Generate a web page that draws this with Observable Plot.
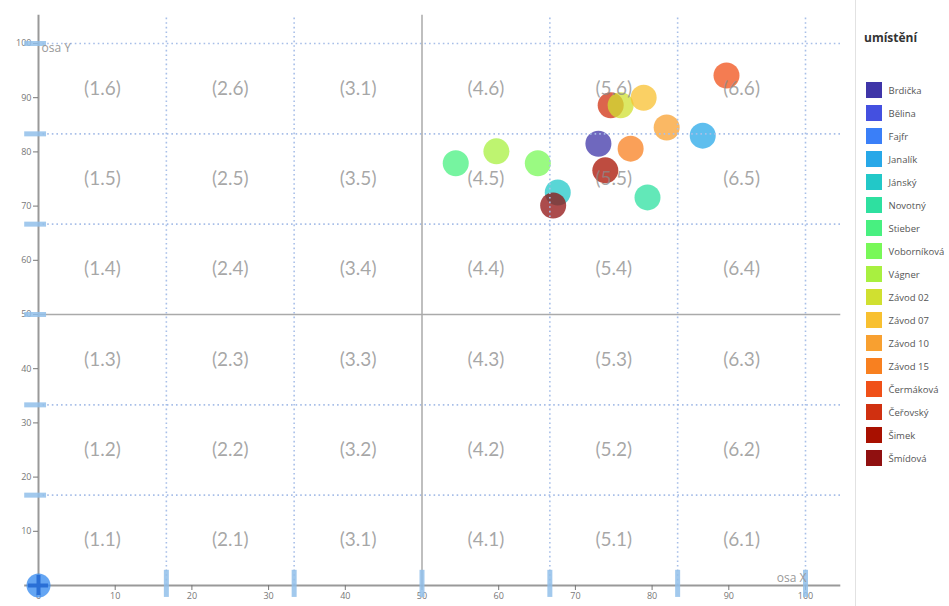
<!DOCTYPE html>
<html><head><meta charset="utf-8">
<script src="https://cdn.jsdelivr.net/npm/d3@7"></script>
<script src="https://cdn.jsdelivr.net/npm/@observablehq/plot@0.6"></script>
<style>
body{margin:0;background:#fff;font-family:"Open Sans",sans-serif;}
#wrap{position:relative;width:949px;height:606px;overflow:hidden;}
#chart{position:absolute;left:0;top:0;}
#legend{position:absolute;left:855px;top:0;width:94px;height:606px;border-left:1px solid #e2e2e2;}
#ltitle{position:absolute;left:8px;top:29px;font:bold 12px "Open Sans",sans-serif;color:#333;}
#lplot{position:absolute;left:0;top:0;}
</style></head><body>
<div id="wrap"><div id="chart"></div><div id="legend"><div id="lplot"></div><div id="ltitle">umístění</div></div></div>
<script>
// legend categories and colours
const names = ["Brdička","Bělina","Fajfr","Janalík","Jánský","Novotný","Stieber","Voborníková","Vágner","Závod 02","Závod 07","Závod 10","Závod 15","Čermáková","Čeřovský","Šimek","Šmídová"];
const colors = ["#3f35a8","#4450e0","#3a7ff8","#28a8e8","#22c8c8","#2ee0a0","#48f080","#78f858","#a8f040","#d0e030","#f8c030","#f8a030","#f88020","#f05018","#d03010","#a81000","#901010"];

// plotted points
const pointNames = ["Stieber","Vágner","Voborníková","Jánský","Šmídová","Brdička","Šimek","Čeřovský","Závod 02","Závod 07","Závod 15","Závod 10","Novotný","Janalík","Čermáková"];
const pointX = [54.4, 59.7, 65.1, 67.7, 67.1, 73.0, 73.9, 74.6, 75.9, 78.9, 77.2, 81.9, 79.4, 86.6, 89.7];
const pointY = [77.9, 80.1, 77.9, 72.5, 70.1, 81.5, 76.6, 88.6, 88.6, 90.0, 80.6, 84.5, 71.6, 83.0, 94.1];

// grid / cells
const gridLines = [16.67, 33.33, 50, 66.67, 83.33, 100];
const cellCenters = [8.33, 25, 41.67, 58.33, 75, 91.67];
const cellLabels = [
  ["(1.1)","(2.1)","(3.1)","(4.1)","(5.1)","(6.1)"],
  ["(1.2)","(2.2)","(3.2)","(4.2)","(5.2)","(6.2)"],
  ["(1.3)","(2.3)","(3.3)","(4.3)","(5.3)","(6.3)"],
  ["(1.4)","(2.4)","(3.4)","(4.4)","(5.4)","(6.4)"],
  ["(1.5)","(2.5)","(3.5)","(4.5)","(5.5)","(6.5)"],
  ["(1.6)","(2.6)","(3.1)","(4.6)","(5.6)","(6.6)"]
];
const xTicks = [0,10,20,30,40,50,60,70,80,90,100];
const yTicks = [10,20,30,40,50,60,70,80,90,100];
const origin = [0];

const points = pointNames.map((n,i)=>({name:n, x:pointX[i], y:pointY[i]}));
const cells = cellLabels.flatMap((row,j)=>row.map((t,i)=>({x:cellCenters[i], y:cellCenters[j], t})));
const dotted = gridLines.filter(v=>v!==50);

const chart = Plot.plot({
  width: 850, height: 606,
  marginLeft: 38, marginRight: 45, marginTop: 43, marginBottom: 21,
  x: {domain:[0,100], axis:null},
  y: {domain:[0,100], axis:null},
  color: {domain:names, range:colors},
  style: {fontFamily:"'Open Sans', sans-serif", background:"white", overflow:"visible"},
  marks: [
    Plot.dot(points, {x:"x", y:"y", r:13, fill:"name", fillOpacity:0.75}),
    Plot.ruleX(dotted, {x:d=>d, y1:0, y2:105.2, stroke:"#a8bfe8", strokeWidth:1.6, strokeDasharray:"1.6,3"}),
    Plot.ruleY(dotted, {y:d=>d, x1:0, x2:104.6, stroke:"#a8bfe8", strokeWidth:1.6, strokeDasharray:"1.6,3"}),
    Plot.ruleX([50], {x:d=>d, y1:0, y2:105.2, stroke:"#aaa", strokeWidth:1.5}),
    Plot.ruleY([50], {y:d=>d, x1:0, x2:104.6, stroke:"#aaa", strokeWidth:1.5}),
    Plot.text(cells, {x:"x", y:"y", text:"t", fill:"#8a8a8a", fillOpacity:0.75, fontSize:19, fontFamily:"Lato, sans-serif"}),
    Plot.ruleY(origin, {y:d=>d, x1:-1.8, x2:104.6, stroke:"#999", strokeWidth:2}),
    Plot.ruleX(origin, {x:d=>d, y1:-1.8, y2:105.2, stroke:"#999", strokeWidth:2}),
    Plot.axisX({ticks:xTicks, tickSize:5, tickPadding:2, fontSize:9, stroke:"#777", fill:"#777", label:null}),
    Plot.axisY({ticks:yTicks, tickSize:5, tickPadding:2, fontSize:9, stroke:"#777", fill:"#777", label:null}),
    Plot.ruleY(gridLines, {y:d=>d, x1:-1.8, x2:1.05, stroke:"#92c0ea", strokeWidth:5, strokeOpacity:0.85}),
    Plot.ruleX(gridLines, {x:d=>d, y1:-2.2, y2:2.8, stroke:"#92c0ea", strokeWidth:5, strokeOpacity:0.85}),
    Plot.dot(origin, {x:d=>d, y:d=>d, r:12, fill:"#3d8ff0", fillOpacity:0.8}),
    Plot.ruleY(origin, {y:d=>d, x1:-1.3, x2:1.3, stroke:"#2a6fd6", strokeWidth:4}),
    Plot.ruleX(origin, {x:d=>d, y1:-1.85, y2:1.85, stroke:"#2a6fd6", strokeWidth:4}),
    Plot.text(["osa Y"], {x:0, y:100, text:d=>d, dx:3, dy:5, textAnchor:"start", fill:"#999", fontSize:12}),
    Plot.text(["osa X"], {x:100, y:0, text:d=>d, dx:1, dy:-7, textAnchor:"end", fill:"#999", fontSize:12})
  ]
});
document.getElementById("chart").append(chart);

const legend = Plot.plot({
  width: 93, height: 606, margin: 0,
  x: {domain:[0,93], range:[0,93], axis:null},
  y: {type:"band", domain:names, range:[82,466], paddingInner:0.304, paddingOuter:0, round:false, axis:null},
  color: {domain:names, range:colors},
  style: {fontFamily:"'Open Sans', sans-serif", background:"transparent"},
  marks: [
    Plot.barX(names, {y:d=>d, x1:10, x2:26, fill:d=>d}),
    Plot.text(names, {y:d=>d, x:32, text:d=>d, textAnchor:"start", fontSize:9.5, fill:"#555"})
  ]
});
document.getElementById("lplot").append(legend);
</script>
</body></html>
